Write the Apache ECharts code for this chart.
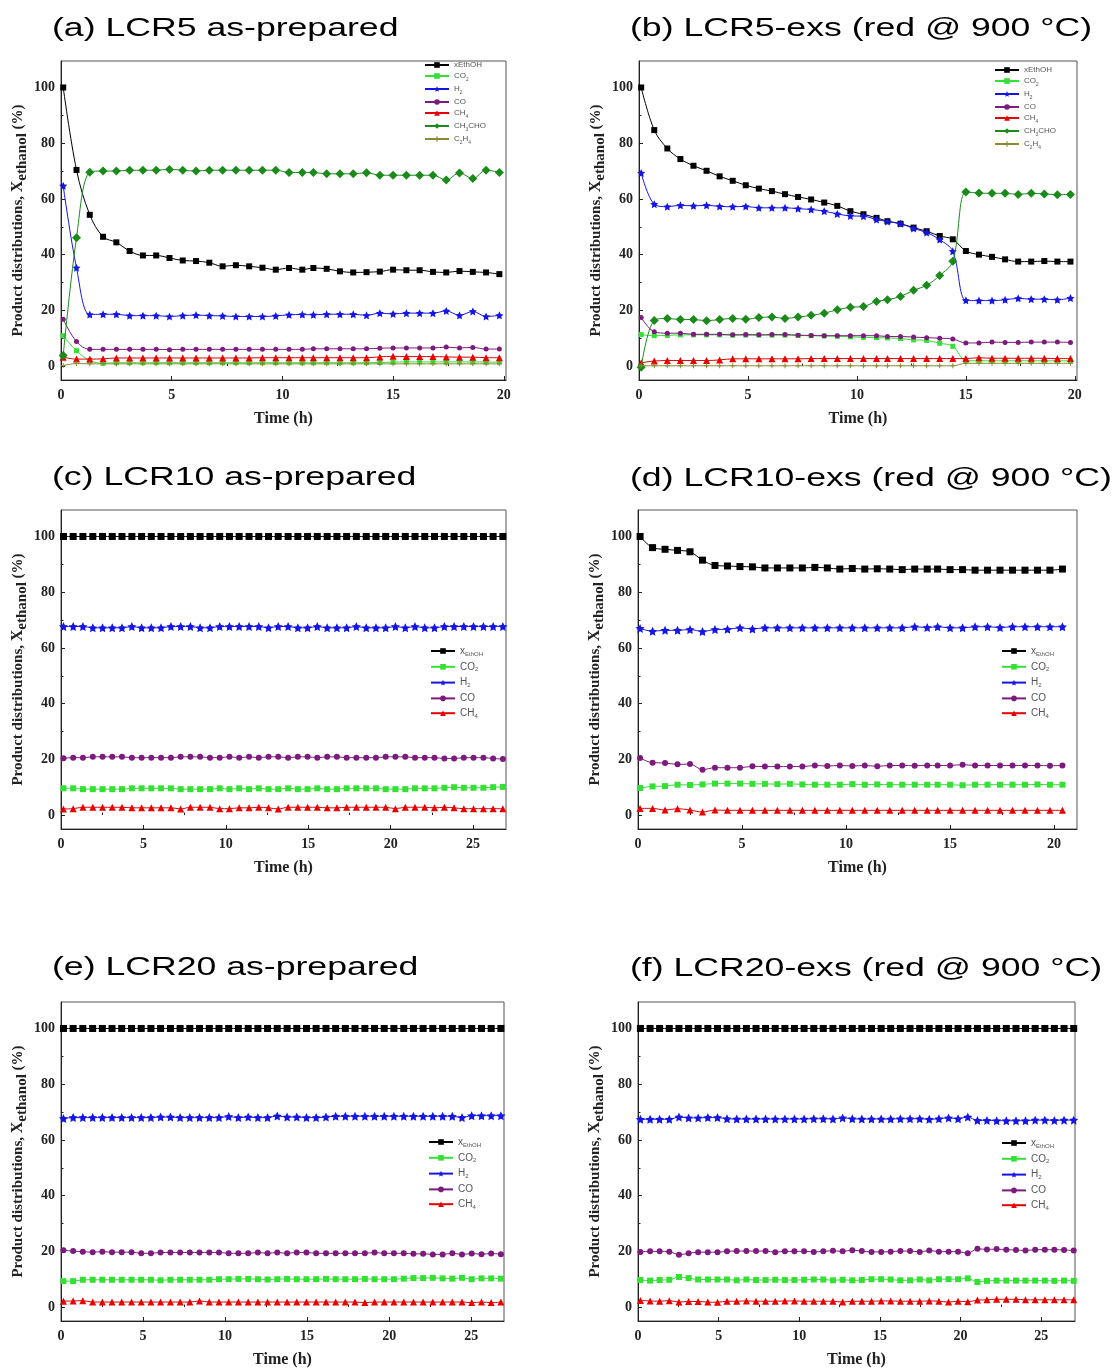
<!DOCTYPE html>
<html><head><meta charset="utf-8">
<script src="https://cdn.jsdelivr.net/npm/echarts@6/dist/echarts.min.js"></script>
<style>html,body{margin:0;padding:0;background:#fff}#c{width:1115px;height:1369px}</style>
</head><body><div id="c"></div><script>
// ---------- data ----------
const seriesNames = ['xEthOH','CO2','H2','CO','CH4','CH3CHO','C2H4'];

const timeAB = [0.1,0.7,1.3,1.9,2.5,3.1,3.7,4.3,4.9,5.5,6.1,6.7,7.3,7.9,8.5,9.1,9.7,10.3,10.9,11.4,12.0,12.6,13.2,13.8,14.4,15.0,15.6,16.2,16.8,17.4,18.0,18.6,19.2,19.8];
const timeD = [0.1,0.7,1.3,1.9,2.5,3.1,3.7,4.3,4.9,5.5,6.1,6.7,7.3,7.9,8.5,9.1,9.7,10.3,10.9,11.5,12.1,12.7,13.3,13.9,14.4,15.0,15.6,16.2,16.8,17.4,18.0,18.6,19.2,19.8,20.4];
const timeCE = [0.15,0.74,1.33,1.93,2.52,3.11,3.70,4.30,4.89,5.48,6.07,6.67,7.26,7.85,8.44,9.04,9.63,10.22,10.81,11.41,12.00,12.59,13.18,13.78,14.37,14.96,15.55,16.15,16.74,17.33,17.92,18.52,19.11,19.70,20.29,20.89,21.48,22.07,22.66,23.26,23.85,24.44,25.03,25.63,26.22,26.81];
const timeF = [0.15,0.75,1.34,1.94,2.54,3.14,3.73,4.33,4.93,5.52,6.12,6.72,7.32,7.91,8.51,9.11,9.70,10.30,10.90,11.49,12.09,12.69,13.29,13.88,14.48,15.08,15.67,16.27,16.87,17.47,18.06,18.66,19.26,19.85,20.45,21.05,21.64,22.24,22.84,23.44,24.03,24.63,25.23,25.82,26.42,27.02];

// (a) LCR5 as-prepared
const xEthOH_a = [100,70.4,54.3,46.4,44.4,41.3,39.7,39.7,38.8,37.9,37.7,37.1,35.8,36.2,35.8,35.3,34.6,35.2,34.6,35.2,34.9,34.0,33.6,33.7,33.9,34.6,34.4,34.4,33.8,33.6,34.1,33.8,33.6,33.0];
const CO2_a = [10.9,5.5,2.0,1.0,1.2,1.2,1.2,1.2,1.2,1.2,1.2,1.2,1.2,1.2,1.2,1.2,1.2,1.2,1.2,1.2,1.2,1.2,1.2,1.2,1.3,1.4,1.5,1.5,1.5,1.5,1.5,1.5,1.4,1.4];
const H2_a = [64.7,35.3,18.5,18.6,18.6,18.1,18.1,18.1,17.8,18.1,18.3,18.1,18.0,17.8,17.8,17.8,18.0,18.4,18.5,18.4,18.6,18.6,18.6,18.2,19.0,18.7,19.0,19.0,19.0,19.8,18.2,19.6,17.8,18.2];
const CO_a = [16.8,8.8,6.0,6.0,6.0,6.0,6.0,6.0,5.9,6.0,6.0,6.0,6.0,6.0,6.0,6.0,6.0,6.0,6.0,6.2,6.2,6.2,6.2,6.2,6.4,6.5,6.5,6.5,6.5,6.8,6.5,6.7,6.1,6.1];
const CH4_a = [3.2,2.5,2.5,2.6,2.9,2.9,2.9,2.9,2.9,2.9,2.9,2.9,2.9,2.9,2.9,3.0,3.0,3.0,3.0,3.0,3.0,3.0,3.0,3.0,3.3,3.5,3.4,3.4,3.4,3.3,3.2,3.2,3.0,3.0];
const CH3CHO_a = [3.8,46.1,69.6,70.0,70.0,70.3,70.3,70.3,70.6,70.3,70.0,70.3,70.3,70.3,70.3,70.3,70.3,69.5,69.5,69.5,69.0,69.0,69.0,69.4,68.5,68.5,68.5,68.5,68.5,66.8,69.3,67.3,70.3,69.5];
const C2H4_a = [0.2,0.9,0.8,0.8,0.8,0.8,0.8,0.8,0.8,0.8,0.8,0.8,0.8,0.8,0.8,0.8,0.8,0.8,0.8,0.8,0.8,0.8,0.8,0.8,0.8,0.8,0.8,0.8,0.8,0.8,0.8,0.8,0.8,0.8];

// (b) LCR5-exs
const xEthOH_b = [100,84.7,78.1,74.3,71.9,70.1,68.1,66.5,64.9,63.7,62.8,61.7,60.7,59.8,58.7,57.5,55.6,54.5,53.2,52.0,51.1,49.7,48.4,46.7,45.5,41.3,40.0,39.2,38.3,37.5,37.5,37.7,37.5,37.5];
const CO2_b = [11.3,10.9,11.0,11.2,11.2,11.2,11.2,11.1,11.1,11.1,11.1,11.1,11.0,10.9,10.8,10.7,10.5,10.3,10.2,10.1,9.9,9.4,9.2,8.2,7.1,2.0,1.9,1.9,1.9,1.9,1.9,1.9,1.9,1.9];
const H2_b = [69.3,58.1,57.2,57.7,57.5,57.7,57.3,57.2,57.3,56.8,56.8,56.8,56.5,56.2,55.6,54.6,53.9,53.8,52.6,51.9,51.1,49.4,47.9,45.4,41.2,23.6,23.5,23.5,23.8,24.3,24.0,24.0,23.8,24.4];
const CO_b = [17.4,12.3,11.8,11.8,11.4,11.4,11.4,11.2,11.3,11.2,11.3,11.3,11.1,11.0,10.9,10.9,10.9,10.9,10.9,10.6,10.6,10.4,10.2,10.0,9.7,8.3,8.3,8.6,8.5,8.5,8.6,8.6,8.6,8.5];
const CH4_b = [1.2,1.8,2.0,2.0,2.0,2.0,2.2,2.6,2.6,2.6,2.6,2.6,2.6,2.7,2.7,2.7,2.7,2.7,2.7,2.7,2.7,2.7,2.7,2.7,2.7,2.7,3.0,2.8,2.8,2.8,2.8,2.8,2.7,2.7];
const CH3CHO_b = [-0.4,16.4,17.1,16.7,16.7,16.3,16.7,17.1,16.8,17.4,17.6,17.1,17.6,18.2,19.0,20.2,21.1,21.4,23.2,23.8,25.0,27.2,29.0,32.5,37.6,62.5,62.1,62.0,62.0,61.6,62.0,61.8,61.5,61.6];
const C2H4_b = [0.1,0.1,0.1,0.1,0.1,0.1,0.1,0.1,0.1,0.1,0.1,0.1,0.1,0.1,0.1,0.1,0.1,0.1,0.1,0.1,0.1,0.1,0.1,0.1,0.1,1.0,1.0,1.0,1.0,1.0,1.0,1.0,1.0,1.0];

// (c) LCR10 as-prepared
const xEthOH_c = [100,100,100,100,100,100,100,100,100,100,100,100,100,100,100,100,100,100,100,100,100,100,100,100,100,100,100,100,100,100,100,100,100,100,100,100,100,100,100,100,100,100,100,100,100,100];
const CO2_c = [9.6,9.6,9.3,9.3,9.3,9.3,9.3,9.6,9.6,9.6, 9.6,9.6,9.3,9.3,9.3,9.3,9.6,9.3,9.6,9.3, 9.6,9.3,9.3,9.6,9.3,9.3,9.6,9.3,9.3,9.6, 9.6,9.6,9.6,9.3,9.3,9.3,9.6,9.6,9.6,9.8, 10.0,9.8,9.8,9.8,10.0,10.1];
const H2_c = [67.7,67.7,67.7,67.2,67.2,67.2,67.2,67.7,67.2,67.2, 67.2,67.7,67.7,67.7,67.2,67.2,67.7,67.7,67.7,67.7, 67.7,67.2,67.7,67.7,67.2,67.2,67.7,67.2,67.2,67.2, 67.7,67.2,67.2,67.2,67.7,67.2,67.7,67.2,67.2,67.7, 67.7,67.7,67.7,67.7,67.7,67.7];
const CO_c = [20.4,20.6,20.6,20.9,20.9,20.9,20.9,20.6,20.6,20.6, 20.6,20.6,20.9,20.9,20.9,20.6,20.6,20.9,20.6,20.9, 20.6,20.9,20.9,20.6,20.9,20.9,20.6,20.9,20.9,20.6, 20.6,20.6,20.6,20.9,20.9,20.9,20.6,20.6,20.6,20.3, 20.3,20.6,20.6,20.6,20.3,20.1];
const CH4_c = [2.2,2.3,2.8,2.8,2.8,2.8,2.8,2.6,2.6,2.6, 2.6,2.6,2.2,2.8,2.8,2.8,2.3,2.3,2.6,2.6, 2.8,2.6,2.2,2.8,2.8,2.8,2.8,2.6,2.6,2.8, 2.8,2.8,2.8,2.8,2.3,2.8,2.8,2.8,2.6,2.8, 2.6,2.3,2.3,2.3,2.3,2.3];

// (d) LCR10-exs
const xEthOH_d = [100,96.0,95.4,95.0,94.5,91.5,89.6,89.4,89.2,89.1,88.7,88.7,88.7,88.7,88.9,88.7,88.3,88.5,88.3,88.4,88.3,88.1,88.3,88.3,88.3,88.1,88.1,87.9,87.9,87.9,87.9,87.9,87.9,87.9,88.3];
const CO2_d = [9.7,10.3,10.4,10.9,10.8,11.0,11.3,11.3,11.3,11.2,11.2,11.1,11.2,11.0,10.9,10.9,10.9,11.1,10.9,11.0,10.9,10.9,10.9,10.9,10.9,10.9,10.7,10.9,10.9,10.9,10.9,10.9,11.0,10.9,10.9];
const H2_d = [67.0,66.0,66.3,66.3,66.6,65.9,66.6,66.7,67.2,66.8,67.2,67.2,67.2,67.2,67.2,67.2,67.2,67.2,67.2,67.2,67.2,67.2,67.6,67.3,67.6,67.2,67.2,67.6,67.6,67.3,67.6,67.6,67.6,67.6,67.6];
const CO_d = [20.5,18.8,18.7,18.2,18.3,16.3,17.0,17.0,17.0,17.5,17.4,17.4,17.4,17.4,17.8,17.6,17.8,17.6,17.8,17.5,17.8,17.8,17.7,17.8,17.8,17.8,18.1,17.8,17.8,17.8,17.8,17.8,17.8,17.7,17.8];
const CH4_d = [2.4,2.4,1.8,2.3,1.8,1.1,1.8,1.7,1.7,1.7,1.7,1.7,1.7,1.7,1.7,1.7,1.7,1.7,1.7,1.7,1.7,1.7,1.7,1.7,1.7,1.7,1.7,1.7,1.7,1.7,1.7,1.7,1.7,1.7,1.7];

// (e) LCR20 as-prepared
const xEthOH_e = [100,100,100,100,100,100,100,100,100,100,100,100,100,100,100,100,100,100,100,100,100,100,100,100,100,100,100,100,100,100,100,100,100,100,100,100,100,100,100,100,100,100,100,100,100,100];
const CO2_e = [9.3,9.3,9.8,9.8,9.8,9.8,9.8,9.8,9.8,9.8, 9.6,9.8,9.8,9.8,9.8,9.8,10.0,10.0,10.1,10.1, 10.0,9.9,10.0,10.1,10.0,10.0,10.0,10.1,10.0,10.0, 10.0,10.1,10.0,10.0,10.0,10.2,10.4,10.4,10.5,10.3, 10.2,10.5,10.0,10.3,10.3,10.2];
const H2_e = [67.7,68.0,68.0,68.0,68.0,68.0,68.0,68.0,68.0,68.0, 68.2,68.2,68.0,68.0,68.0,68.0,68.0,68.4,68.0,68.2, 68.0,68.0,68.6,68.2,68.2,68.0,68.0,68.2,68.5,68.5, 68.5,68.5,68.5,68.5,68.5,68.5,68.5,68.5,68.5,68.5, 68.5,68.0,68.7,68.7,68.7,68.7];
const CO_e = [20.4,20.1,19.9,19.7,19.9,19.7,19.7,19.7,19.3,19.3, 19.6,19.6,19.6,19.6,19.6,19.6,19.6,19.3,19.3,19.3, 19.6,19.3,19.6,19.3,19.6,19.6,19.3,19.3,19.3,19.3, 19.3,19.3,19.6,19.3,19.3,19.3,19.1,19.1,18.9,18.9, 19.3,18.9,19.2,19.0,19.2,19.0];
const CH4_e = [2.1,2.2,2.3,1.8,1.8,1.8,1.8,1.8,1.8,1.8, 1.8,1.8,1.8,1.8,2.2,1.8,1.8,1.8,1.8,1.8, 1.8,1.8,1.8,1.8,1.8,1.8,1.8,1.8,1.8,1.8, 1.8,1.6,1.8,1.8,1.8,1.8,1.8,1.8,1.8,1.8, 1.8,1.8,1.6,1.8,1.6,1.8];

// (f) LCR20-exs
const xEthOH_f = [100,100,100,100,100,100,100,100,100,100,100,100,100,100,100,100,100,100,100,100,100,100,100,100,100,100,100,100,100,100,100,100,100,100,100,100,100,100,100,100,100,100,100,100,100,100];
const CO2_f = [9.7,9.5,9.7,9.8,10.8,10.4,9.9,9.9,9.9,9.9, 9.6,9.9,9.7,9.7,9.8,9.7,9.7,9.8,9.9,9.9, 9.6,9.8,9.6,9.7,10.0,10.0,9.9,9.6,9.6,9.9, 9.6,10.0,10.0,10.0,10.3,9.0,9.4,9.5,9.5,9.5, 9.5,9.5,9.5,9.4,9.5,9.4];
const H2_f = [67.4,67.4,67.4,67.4,68.2,67.9,67.9,68.0,68.0,67.6, 67.5,67.5,67.5,67.5,67.5,67.5,67.5,67.5,67.6,67.6, 67.5,67.9,67.6,67.5,67.5,67.5,67.5,67.6,67.6,67.6, 67.4,67.6,67.9,67.6,68.2,67.0,67.0,66.9,66.9,66.9, 66.9,67.1,67.1,67.0,67.1,67.1];
const CO_f = [19.8,20.0,20.0,19.9,18.8,19.3,19.7,19.7,19.7,20.0, 20.1,20.1,20.1,20.1,19.7,20.0,20.0,20.0,19.8,20.0, 20.2,20.0,20.4,20.1,19.8,19.8,19.9,20.1,20.1,19.8, 20.3,19.9,19.9,19.9,19.3,20.9,20.7,20.8,20.6,20.5, 20.3,20.6,20.6,20.6,20.5,20.3];
const CH4_f = [2.4,2.2,2.1,2.3,1.8,2.0,2.0,1.8,1.7,2.1, 2.1,2.2,2.1,2.1,2.1,2.2,2.2,2.1,2.1,2.1, 2.1,1.8,2.1,2.1,2.1,2.2,2.2,2.1,2.1,2.1, 2.2,2.1,1.8,2.1,1.9,2.5,2.6,2.8,2.8,2.8, 2.6,2.6,2.6,2.6,2.6,2.6];

const titles = ['(a) LCR5 as-prepared','(b) LCR5-exs (red @ 900 °C)','(c) LCR10 as-prepared','(d) LCR10-exs (red @ 900 °C)','(e) LCR20 as-prepared','(f) LCR20-exs (red @ 900 °C)'];
const yTicks = [0,20,40,60,80,100];
const yMinorTicks = [10,30,50,70,90];
const xTicks20 = [0,5,10,15,20];
const xMinor20 = [2.5,7.5,12.5,17.5];
const xTicks25 = [0,5,10,15,20,25];
const xMinor25 = [2.5,7.5,12.5,17.5,22.5];

const panels = [
  {time: timeAB, vals: {xEthOH:xEthOH_a, CO2:CO2_a, H2:H2_a, CO:CO_a, CH4:CH4_a, CH3CHO:CH3CHO_a, C2H4:C2H4_a}, xMax:20.1, xt:xTicks20, xm:xMinor20},
  {time: timeAB, vals: {xEthOH:xEthOH_b, CO2:CO2_b, H2:H2_b, CO:CO_b, CH4:CH4_b, CH3CHO:CH3CHO_b, C2H4:C2H4_b}, xMax:20.1, xt:xTicks20, xm:xMinor20},
  {time: timeCE, vals: {xEthOH:xEthOH_c, CO2:CO2_c, H2:H2_c, CO:CO_c, CH4:CH4_c}, xMax:27, xt:xTicks25, xm:xMinor25},
  {time: timeD, vals: {xEthOH:xEthOH_d, CO2:CO2_d, H2:H2_d, CO:CO_d, CH4:CH4_d}, xMax:21.1, xt:xTicks20, xm:xMinor20},
  {time: timeCE, vals: {xEthOH:xEthOH_e, CO2:CO2_e, H2:H2_e, CO:CO_e, CH4:CH4_e}, xMax:27, xt:xTicks25, xm:xMinor25},
  {time: timeF, vals: {xEthOH:xEthOH_f, CO2:CO2_f, H2:H2_f, CO:CO_f, CH4:CH4_f}, xMax:27.1, xt:xTicks25, xm:xMinor25}
];

// ---------- layout & style ----------
const grids = [
  {left:61, top:61, width:445, height:319},
  {left:639, top:61, width:438, height:319},
  {left:61, top:510, width:445, height:319},
  {left:638, top:510, width:439, height:319},
  {left:61, top:1002, width:443, height:320},
  {left:638, top:1002, width:437, height:319}
];
const titlePos = [[52,29],[630,29],[52,478],[630,479],[52,968],[630,969]];
const legendPos = [
  {left:424, top:61, gap:3, font:8, ih:7, sub:false},
  {left:994, top:66, gap:3, font:8, ih:7, sub:false},
  {left:430, top:646, gap:4.8, font:10, ih:7, sub:true},
  {left:1001, top:646, gap:4.8, font:10, ih:7, sub:true},
  {left:428, top:1137, gap:4.8, font:10, ih:7, sub:true},
  {left:1001, top:1138, gap:4.8, font:10, ih:7, sub:true}
];
const STAR = 'path://M0,-10L2.9,-4L9.51,-3.09L4.7,1.5L5.88,8.09L0,5L-5.88,8.09L-4.7,1.5L-9.51,-3.09L-2.9,-4Z';
const PLUS = 'path://M-1,-5L1,-5L1,-1L5,-1L5,1L1,1L1,5L-1,5L-1,1L-5,1L-5,-1L-1,-1Z';
const styles = {
  xEthOH: {color:'#000000', symbol:'rect', size:[6,7]},
  CO2:    {color:'#33e033', symbol:'rect', size:[5,6]},
  H2:     {color:'#1515e6', symbol:STAR, size:[8,9]},
  CO:     {color:'#7d1a7d', symbol:'circle', size:[5,6]},
  CH4:    {color:'#e80000', symbol:'triangle', size:[7,7]},
  CH3CHO: {color:'#1a8a1a', symbol:'diamond', size:[9,9]},
  C2H4:   {color:'#8a8a30', symbol:PLUS, size:[5,5]}
};
const serif = 'Liberation Serif';
const axisColor = '#222';

const grid = [], xAxis = [], yAxis = [], series = [], legend = [], graphic = [];
panels.forEach((p, i) => {
  const big = i >= 2 ? 1 : 0;
  grid.push(Object.assign({show:true, borderColor:'#555', borderWidth:1, backgroundColor:'transparent', containLabel:false}, grids[i]));
  xAxis.push({
    type:'value', gridIndex:i, min:0, max:p.xMax,
    axisLine:{show:true, onZero:false, lineStyle:{color:axisColor, width:1}},
    axisTick:{show:true, inside:true, length:4, customValues:p.xt, lineStyle:{color:axisColor}},
    axisLabel:{customValues:p.xt, margin:8, fontFamily:serif, fontWeight:'bold', fontSize:14, color:axisColor},
    splitLine:{show:false},
    name:'Time (h)', nameLocation:'middle', nameGap:31,
    nameTextStyle:{fontFamily:serif, fontWeight:'bold', fontSize:16, color:axisColor}
  });
  yAxis.push({
    type:'value', gridIndex:i, min:-5, max:109.5, position:'left',
    axisLine:{show:true, onZero:false, lineStyle:{color:axisColor, width:1}},
    axisTick:{show:true, inside:true, length:4, customValues:yTicks, lineStyle:{color:axisColor}},
    axisLabel:{customValues:yTicks, margin:6, fontFamily:serif, fontWeight:'bold', fontSize:14, color:axisColor},
    splitLine:{show:false},
    name:'{a|Product distributions, }{x|X}{s|ethanol}{a| (%)}',
    nameLocation:'middle', nameGap:28, nameRotate:90,
    nameTextStyle:{rich:{
      a:{fontFamily:serif, fontWeight:'bold', fontSize:15, lineHeight:24, color:axisColor, verticalAlign:'middle'},
      x:{fontFamily:serif, fontWeight:'bold', fontSize:16, lineHeight:24, color:axisColor, verticalAlign:'middle'},
      s:{fontFamily:serif, fontWeight:'bold', fontSize:15, lineHeight:15, color:axisColor, verticalAlign:'bottom'}
    }}
  });
  const names = Object.keys(p.vals);
  names.forEach((nm, k) => {
    const st = styles[nm];
    series.push({
      type:'line', name:nm, xAxisIndex:i, yAxisIndex:i,
      data: p.time.map((t, j) => [t, p.vals[nm][j]]),
      symbol: st.symbol, symbolSize: st.size[big], smooth:0.35,
      showAllSymbol:true,
      lineStyle:{color:st.color, width:1},
      itemStyle:{color:st.color},
      z: 2 + k, animation:false
    });
  });
  const lp = legendPos[i];
  const f = lp.font, fs = Math.round(f*0.6*10)/10;
  const lbl = {
    xEthOH: lp.sub ? '{t|x}{s|EthOH}' : '{t|xEthOH}',
    CO2:'{t|CO}{s|2}', H2:'{t|H}{s|2}', CO:'{t|CO}', CH4:'{t|CH}{s|4}',
    CH3CHO:'{t|CH}{s|3}{t|CHO}', C2H4:'{t|C}{s|2}{t|H}{s|4}'
  };
  legend.push({
    orient:'vertical', left:lp.left, top:lp.top, padding:0, itemGap:lp.gap,
    itemWidth:24, itemHeight:lp.ih, data:names, selectedMode:false,
    formatter: n => lbl[n],
    textStyle:{rich:{
      t:{fontFamily:'Liberation Sans', fontSize:f, lineHeight:12, color:'#555', verticalAlign:'middle'},
      s:{fontFamily:'Liberation Sans', fontSize:fs, lineHeight:fs, color:'#555', verticalAlign:'bottom'}
    }}
  });
  graphic.push({
    type:'text', x:titlePos[i][0], y:titlePos[i][1], scaleX:1.37, scaleY:1, z:100,
    style:{text:titles[i], fontFamily:'Liberation Sans', fontSize:26, fill:'#000', align:'left', verticalAlign:'middle'}
  });
});
// minor ticks
panels.forEach((p, i) => {
  xAxis.push({
    type:'value', gridIndex:i, min:0, max:p.xMax, position:'bottom',
    axisLine:{show:false}, axisLabel:{show:false}, splitLine:{show:false},
    axisTick:{show:true, inside:true, length:2.5, customValues:p.xm, lineStyle:{color:axisColor}}
  });
  yAxis.push({
    type:'value', gridIndex:i, min:-5, max:109.5, position:'left',
    axisLine:{show:false}, axisLabel:{show:false}, splitLine:{show:false},
    axisTick:{show:true, inside:true, length:2.5, customValues:yMinorTicks, lineStyle:{color:axisColor}}
  });
});

const chart = echarts.init(document.getElementById('c'), null, {renderer:'canvas'});
chart.setOption({backgroundColor:'#fff', animation:false, grid, xAxis, yAxis, series, legend, graphic});
</script></body></html>
